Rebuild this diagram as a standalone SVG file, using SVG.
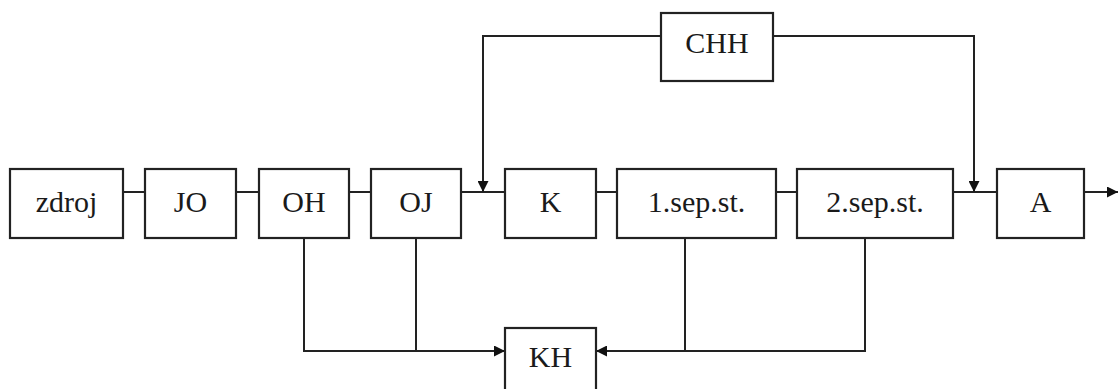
<svg xmlns="http://www.w3.org/2000/svg" width="1118" height="389" viewBox="0 0 1118 389">
<style>
.box{fill:#fff;stroke:#222;stroke-width:2.2}
.lbl{font-family:"Liberation Serif","Times New Roman",serif;font-size:30px;fill:#1a1a1a;text-anchor:middle}
.ln{fill:none;stroke:#222;stroke-width:2}
</style>
<defs>
<marker id="ah" viewBox="0 0 10 10" refX="10" refY="5" markerWidth="11" markerHeight="11" markerUnits="userSpaceOnUse" orient="auto">
<path d="M0,0 L10,5 L0,10 Z" fill="#111"/>
</marker>
</defs>
<rect width="1118" height="389" fill="#fff"/>
<g id="connectors">
<path class="ln" d="M123,192 H145"/>
<path class="ln" d="M236,192 H259"/>
<path class="ln" d="M349,192 H371"/>
<path class="ln" d="M461,192 H505"/>
<path class="ln" d="M596,192 H617"/>
<path class="ln" d="M776,192 H797"/>
<path class="ln" d="M953,192 H997"/>
<path class="ln" d="M1084,192 H1118" marker-end="url(#ah)"/>
<path class="ln" d="M661,36 H483 V192" marker-end="url(#ah)"/>
<path class="ln" d="M773,36 H974 V192" marker-end="url(#ah)"/>
<path class="ln" d="M304,238 V351 H505" marker-end="url(#ah)"/>
<path class="ln" d="M416,238 V351"/>
<path class="ln" d="M865,238 V351 H596" marker-end="url(#ah)"/>
<path class="ln" d="M685,238 V351"/>
</g>
<g id="zdroj"><rect class="box" x="10" y="169" width="113" height="69"/><text class="lbl" x="66.5" y="212">zdroj</text></g>
<g id="JO"><rect class="box" x="145" y="169" width="91" height="69"/><text class="lbl" x="190.5" y="212">JO</text></g>
<g id="OH"><rect class="box" x="259" y="169" width="90" height="69"/><text class="lbl" x="304" y="212">OH</text></g>
<g id="OJ"><rect class="box" x="371" y="169" width="90" height="69"/><text class="lbl" x="416" y="212">OJ</text></g>
<g id="K"><rect class="box" x="505" y="169" width="91" height="69"/><text class="lbl" x="550.5" y="212">K</text></g>
<g id="sep1"><rect class="box" x="617" y="169" width="159" height="69"/><text class="lbl" x="696.5" y="212">1.sep.st.</text></g>
<g id="sep2"><rect class="box" x="797" y="169" width="156" height="69"/><text class="lbl" x="875" y="212">2.sep.st.</text></g>
<g id="A"><rect class="box" x="997" y="169" width="87" height="69"/><text class="lbl" x="1040.5" y="212">A</text></g>
<g id="CHH"><rect class="box" x="661" y="13" width="112" height="68"/><text class="lbl" x="717" y="53">CHH</text></g>
<g id="KH"><rect class="box" x="505" y="328" width="91" height="70"/><text class="lbl" x="550.5" y="367">KH</text></g>
</svg>
